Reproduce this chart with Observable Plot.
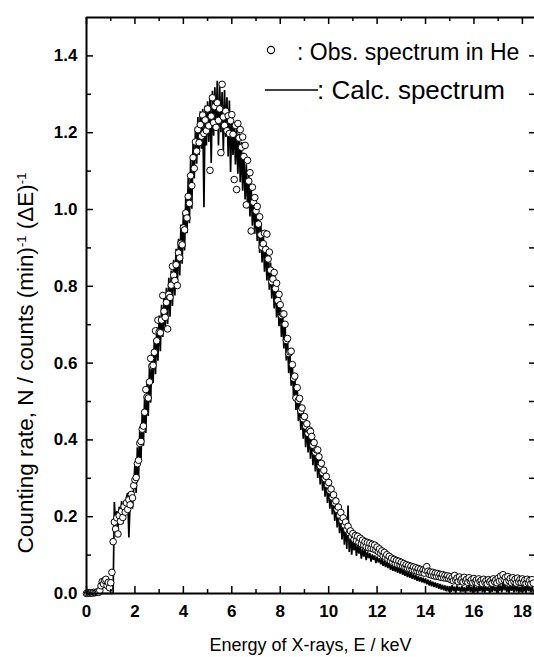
<!DOCTYPE html>
<html>
<head>
<meta charset="utf-8">
<script src="https://cdn.jsdelivr.net/npm/d3@7"></script>
<script src="https://cdn.jsdelivr.net/npm/@observablehq/plot@0.6"></script>
<style>
  html, body { margin: 0; padding: 0; background: #fff; overflow: hidden; }
  #chart { position: relative; width: 534px; height: 657px; }
</style>
</head>
<body>
<div id="chart"></div>
<script>
// Channel grid: energy of channel i = E_START + i * E_STEP (keV)
const E_START = 0;
const E_STEP = 0.05;

// Observed spectrum in He (counts/min/ΔE), one row per keV (20 channels)
const obsN = [
  0,0.001,0.002,0.001,0.002,0.001,0.003,0.002,0.003,0.004,0.003,0.008,0.02,0.031,0.025,0.034,0.037,0.021,0.029,0.015,
  0.028,0.055,0.135,0.186,0.168,0.197,0.155,0.203,0.188,0.214,0.198,0.226,0.212,0.236,0.219,0.244,0.231,0.258,0.249,0.281,
  0.296,0.302,0.338,0.347,0.391,0.396,0.428,0.436,0.472,0.531,0.512,0.509,0.551,0.612,0.592,0.594,0.628,0.684,0.658,0.712,
  0.681,0.679,0.712,0.776,0.735,0.719,0.758,0.689,0.779,0.771,0.803,0.852,0.829,0.815,0.856,0.802,0.887,0.874,0.912,0.908,
  0.952,0.947,0.991,0.978,1.034,1.016,1.088,1.062,1.135,1.107,1.176,1.152,1.208,1.174,1.221,1.191,1.246,1.198,1.233,1.205,
  1.262,1.218,1.102,1.243,1.291,1.226,1.268,1.214,1.278,1.232,1.262,1.148,1.326,1.241,1.219,1.256,1.205,1.244,1.198,1.231,
  1.247,1.196,1.078,1.219,1.052,1.224,1.186,1.208,1.162,1.189,1.138,1.167,1.012,1.128,1.074,1.096,0.944,1.058,1.019,1.031,
  0.996,1.008,0.962,0.981,0.934,0.902,0.911,0.938,0.896,0.936,0.871,0.889,0.842,0.812,0.819,0.836,0.794,0.808,0.763,0.779,
  0.752,0.724,0.728,0.728,0.701,0.659,0.664,0.625,0.629,0.631,0.596,0.561,0.566,0.509,0.536,0.503,0.508,0.476,0.483,0.455,
  0.461,0.436,0.442,0.417,0.426,0.422,0.409,0.386,0.393,0.368,0.374,0.374,0.356,0.332,0.339,0.315,0.321,0.299,0.305,0.283,
  0.289,0.268,0.272,0.251,0.257,0.236,0.241,0.219,0.225,0.204,0.211,0.189,0.197,0.178,0.186,0.166,0.175,0.158,0.163,0.148,
  0.156,0.141,0.151,0.137,0.149,0.133,0.144,0.129,0.139,0.126,0.135,0.122,0.133,0.119,0.131,0.118,0.128,0.116,0.126,0.113,
  0.121,0.109,0.116,0.104,0.111,0.098,0.107,0.094,0.101,0.089,0.097,0.085,0.092,0.081,0.089,0.078,0.086,0.076,0.084,0.074,
  0.081,0.072,0.078,0.069,0.075,0.066,0.073,0.064,0.071,0.062,0.069,0.06,0.067,0.058,0.065,0.056,0.063,0.055,0.061,0.053,
  0.061,0.07,0.058,0.05,0.056,0.048,0.055,0.046,0.053,0.045,0.052,0.044,0.05,0.042,0.049,0.041,0.047,0.04,0.046,0.039,
  0.044,0.036,0.041,0.033,0.047,0.035,0.04,0.031,0.043,0.034,0.038,0.03,0.042,0.033,0.037,0.029,0.041,0.032,0.036,0.028,
  0.039,0.03,0.035,0.027,0.038,0.031,0.034,0.026,0.037,0.029,0.033,0.025,0.036,0.03,0.034,0.027,0.038,0.031,0.035,0.028,
  0.04,0.032,0.045,0.034,0.049,0.036,0.042,0.03,0.044,0.033,0.039,0.028,0.041,0.031,0.037,0.027,0.04,0.03,0.036,0.029,
  0.038,0.029,0.035,0.026,0.037,0.028,0.034,0.025,0.036,0.027
];

// Calculated spectrum, same channel grid
const calcN = [
  0,0,0,0,0,0,0,0,0,0,0,0,0,0,0,0,0,0,0,0,
  0,0,0,0.238,0.176,0.215,0.168,0.226,0.197,0.241,0.182,0.232,0.205,0.251,0.262,0.146,0.236,0.258,0.221,0.279,
  0.338,0.262,0.381,0.301,0.428,0.347,0.471,0.385,0.512,0.418,0.546,0.462,0.589,0.497,0.632,0.548,0.662,0.571,0.694,0.606,
  0.724,0.631,0.752,0.668,0.771,0.684,0.796,0.702,0.822,0.721,0.841,0.749,0.869,0.776,0.898,0.802,0.924,0.828,0.961,0.859,
  0.992,0.893,1.034,0.938,1.082,0.964,1.131,1.002,1.172,1.081,1.214,1.119,1.241,1.142,1.256,1.158,1.262,1.006,1.271,1.167,
  1.282,1.176,1.297,1.121,1.309,1.192,1.318,1.208,1.335,1.167,1.322,1.201,1.306,1.153,1.311,1.189,1.292,1.138,1.284,1.098,
  1.241,1.142,1.228,1.117,1.211,1.093,1.198,1.071,1.176,1.049,1.148,1.026,1.118,1.003,1.089,0.982,1.061,0.958,1.036,0.937,
  1.012,0.918,0.991,0.887,0.964,0.862,0.939,0.838,0.911,0.815,0.889,0.791,0.862,0.768,0.838,0.742,0.811,0.719,0.784,0.696,
  0.762,0.668,0.731,0.638,0.702,0.607,0.668,0.574,0.635,0.541,0.601,0.509,0.571,0.478,0.541,0.449,0.512,0.426,0.488,0.403,
  0.468,0.381,0.449,0.367,0.431,0.351,0.415,0.334,0.398,0.318,0.381,0.301,0.362,0.284,0.344,0.268,0.327,0.252,0.311,0.236,
  0.294,0.221,0.277,0.206,0.259,0.189,0.243,0.172,0.226,0.157,0.209,0.141,0.194,0.127,0.181,0.116,0.229,0.108,0.162,0.101,
  0.141,0.112,0.132,0.098,0.127,0.104,0.121,0.091,0.117,0.096,0.113,0.087,0.109,0.092,0.105,0.083,0.102,0.088,0.099,0.079,
  0.096,0.081,0.092,0.076,0.089,0.072,0.085,0.069,0.082,0.066,0.079,0.062,0.076,0.059,0.073,0.057,0.07,0.054,0.068,0.052,
  0.066,0.049,0.062,0.046,0.059,0.043,0.056,0.041,0.053,0.038,0.05,0.036,0.048,0.033,0.045,0.031,0.043,0.029,0.041,0.027,
  0.039,0.024,0.036,0.021,0.034,0.019,0.031,0.017,0.029,0.015,0.027,0.012,0.025,0.01,0.023,0.008,0.021,0.006,0.02,0.005,
  0.019,0.004,0.022,0.006,0.018,0.002,0.021,0.007,0.017,0.003,0.02,0.005,0.016,0.001,0.019,0.006,0.023,0.004,0.018,0.002,
  0.021,0.005,0.017,0.001,0.02,0.006,0.024,0.003,0.018,0.002,0.022,0.007,0.016,0.001,0.019,0.004,0.023,0.006,0.017,0.002,
  0.025,0.006,0.021,0.003,0.027,0.008,0.022,0.004,0.019,0.002,0.024,0.007,0.02,0.003,0.026,0.005,0.021,0.002,0.018,0.004,
  0.022,0.005,0.019,0.002,0.024,0.006,0.02,0.003,0.021,0.004
];

// Axis ticks and labels
const xMajor = [0, 2, 4, 6, 8, 10, 12, 14, 16, 18];
const xMinor = [1, 3, 5, 7, 9, 11, 13, 15, 17];
const yMajor = [0, 0.2, 0.4, 0.6, 0.8, 1.0, 1.2, 1.4];
const yMinor = [0.1, 0.3, 0.5, 0.7, 0.9, 1.1, 1.3];
const xDomain = [0, 18.5];
const yDomain = [0, 1.5];

const xTitle = "Energy of X-rays, E / keV";
const legendObs = ": Obs. spectrum in He";
const legendCalc = ": Calc. spectrum";

const obs = obsN.map((n, i) => ({E: E_START + i * E_STEP, N: n}));
const calc = calcN.map((n, i) => ({E: E_START + i * E_STEP, N: n}));

const W = 534, H = 657;
const mL = 86, mR = 0, mT = 17, mB = 64;
const PW = W - mL - mR, PH = H - mT - mB;
const FONT = "'Liberation Sans', Arial, Helvetica, sans-serif";

const plot = Plot.plot({
  width: W,
  height: H,
  marginLeft: mL,
  marginRight: mR,
  marginTop: mT,
  marginBottom: mB,
  x: {domain: xDomain, axis: null},
  y: {domain: yDomain, axis: null},
  style: {fontFamily: FONT, fontSize: "17px", background: "#fff", color: "#000", overflow: "visible"},
  marks: [
    // calculated spectrum (line)
    Plot.line(calc, {x: "E", y: "N", stroke: "#000", strokeWidth: 1.7, strokeLinejoin: "miter"}),
    // observed spectrum (open circles)
    Plot.dot(obs, {x: "E", y: "N", r: 3.3, fill: "#fff", stroke: "#000", strokeWidth: 1}),
    // frame: left, bottom, top
    Plot.ruleX([xDomain[0]], {stroke: "#000", strokeWidth: 2}),
    Plot.ruleY([yDomain[0]], {stroke: "#000", strokeWidth: 2}),
    Plot.ruleY([yDomain[1]], {stroke: "#000", strokeWidth: 2}),
    // bottom ticks (inward)
    Plot.tickX(xMajor, {x: d => d, insetTop: PH - 7, stroke: "#000", strokeWidth: 1.5}),
    Plot.tickX(xMinor, {x: d => d, insetTop: PH - 4, stroke: "#000", strokeWidth: 1.5}),
    // top ticks (inward)
    Plot.tickX(xMajor, {x: d => d, insetBottom: PH - 7, stroke: "#000", strokeWidth: 1.5}),
    Plot.tickX(xMinor, {x: d => d, insetBottom: PH - 4, stroke: "#000", strokeWidth: 1.5}),
    // left ticks (inward)
    Plot.tickY(yMajor, {y: d => d, insetRight: PW - 7, stroke: "#000", strokeWidth: 1.5}),
    Plot.tickY(yMinor, {y: d => d, insetRight: PW - 5, stroke: "#000", strokeWidth: 1.5}),
    // right ticks (inward)
    Plot.tickY(yMajor, {y: d => d, insetLeft: PW - 5, stroke: "#000", strokeWidth: 1.5}),
    Plot.tickY(yMinor, {y: d => d, insetLeft: PW - 5, stroke: "#000", strokeWidth: 1.5}),
    // tick labels
    Plot.text(yMajor, {y: d => d, text: d => d.toFixed(1), frameAnchor: "left", textAnchor: "end", dx: -9, fontSize: 17, fontWeight: "bold", fill: "#000"}),
    Plot.text(xMajor, {x: d => d, text: d => String(d), frameAnchor: "bottom", lineAnchor: "middle", dy: 18, fontSize: 17, fontWeight: "bold", fill: "#000"}),
    // x-axis title
    Plot.text([xTitle], {text: d => d, frameAnchor: "bottom", lineAnchor: "middle", dy: 52, fontSize: 18, fill: "#000"})
  ]
});

document.getElementById("chart").appendChild(plot);

// Y-axis title with superscripts, and legend (added as SVG text/elements)
const svg = d3.select(plot);
const yt = svg.append("text")
  .attr("transform", "translate(33,363) rotate(-90)")
  .attr("text-anchor", "middle")
  .attr("font-family", FONT)
  .attr("font-size", 22.5)
  .attr("fill", "#000");
yt.append("tspan").text("Counting rate, N / counts (min)");
yt.append("tspan").attr("baseline-shift", "super").attr("font-size", 13).text("-1");
yt.append("tspan").text(" (\u0394E)");
yt.append("tspan").attr("baseline-shift", "super").attr("font-size", 13).text("-1");

const lg = svg.append("g").attr("font-family", FONT).attr("fill", "#000").attr("text-anchor", "start");
lg.append("circle").attr("cx", 271).attr("cy", 50).attr("r", 3.6)
  .attr("fill", "#fff").attr("stroke", "#000").attr("stroke-width", 1.1);
lg.append("text").attr("x", 297).attr("y", 60).attr("font-size", 23).text(legendObs);
lg.append("line").attr("x1", 265).attr("x2", 318).attr("y1", 90).attr("y2", 90)
  .attr("stroke", "#000").attr("stroke-width", 1.7);
lg.append("text").attr("x", 317).attr("y", 99).attr("font-size", 26).text(legendCalc);
</script>
</body>
</html>
